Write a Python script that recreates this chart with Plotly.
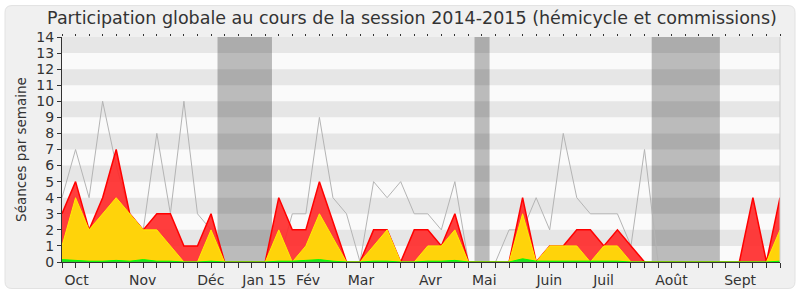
import plotly.graph_objects as go

# ---- data (weekly, session 2014-2015) ----
weeks = list(range(54))
presence = [3, 5, 2, 4, 7, 3, 2, 3, 3, 1, 1, 3, 0, 0, 0, 0, 4, 2, 2, 5, 2.5, 0, 0, 2, 2, 0, 2, 2, 1, 3,
            0, 0, 0, 0, 4, 0, 1, 1, 2, 2, 1, 2, 1, 0, 0, 0, 0, 0, 0, 0, 0, 4, 0, 4]
participation = [1, 4, 2, 3, 4, 3, 2, 2, 1, 0, 0, 2, 0, 0, 0, 0, 2, 0, 1, 3, 1.5, 0, 0, 1, 2, 0, 0, 1, 1, 2,
                 0, 0, 0, 0, 3, 0, 1, 1, 1, 0, 1, 1, 0, 0, 0, 0, 0, 0, 0, 0, 0, 0, 0, 2]
interventions = [0.15, 0.1, 0.05, 0.05, 0.1, 0.05, 0.15, 0.05, 0.05, 0, 0, 0.05, 0, 0, 0, 0, 0.05, 0.05, 0.1, 0.15,
                 0.05, 0, 0, 0.05, 0.05, 0, 0, 0.05, 0.05, 0.1, 0, 0, 0, 0, 0.2, 0.05, 0.05, 0.05, 0.05, 0.05,
                 0.05, 0.05, 0, 0, 0, 0, 0, 0, 0, 0, 0, 0, 0, 0.05]
mediane = [4, 7, 4, 10, 6, 3, 2, 8, 3, 10, 3, 2, 0, 0, 0, 0, 0, 3, 3, 9, 4, 3, 0, 5, 4, 5, 3, 3, 2, 5,
           0, 0, 0, 2, 2, 4, 2, 8, 4, 3, 3, 3, 1, 7, 0, 0, 0, 0, 0, 0, 0, 0, 0, 0]
month_labels = ["Oct", "Nov", "Déc", "Jan 15", "Fév", "Mar", "Avr", "Mai", "Juin", "Juil", "Août", "Sept"]
month_pos = [1.08, 5.96, 10.99, 14.93, 18.16, 22.07, 27.2, 31.17, 35.97, 39.98, 44.99, 50.06]
vacances = [(11.48, 15.5), (30.45, 31.56), (43.53, 48.56)]
y_ticks = list(range(0, 15))

FONT = "DejaVu Sans"
fig = go.Figure()

fig.add_trace(go.Scatter(x=weeks, y=mediane, mode="lines",
                         line=dict(color="#b4b4b4", width=1), hoverinfo="skip", showlegend=False))
fig.add_trace(go.Scatter(x=weeks, y=presence, mode="lines", fill="tozeroy",
                         fillcolor="rgba(255,40,40,0.9)", line=dict(color="#ff0000", width=1.5),
                         showlegend=False))
fig.add_trace(go.Scatter(x=weeks, y=participation, mode="lines", fill="tozeroy",
                         fillcolor="#ffd30a", line=dict(color="#ffee00", width=1),
                         showlegend=False))
fig.add_trace(go.Scatter(x=weeks, y=interventions, mode="lines", fill="tozeroy",
                         fillcolor="#22dd22", line=dict(color="#00ff00", width=1),
                         showlegend=False))
# invisible trace for the top tick axis
fig.add_trace(go.Scatter(x=[0, 53], y=[0, 0], xaxis="x2", mode="markers",
                         marker=dict(opacity=0), hoverinfo="skip", showlegend=False))

# geometry helpers for the outer rounded frame (paper coords relative to plot area)
L, R, T, B = 62, 780, 37, 266
W, H = R - L, B - T
def px(X): return (X - L) / W
def py(Y): return (B - Y) / H

x0, x1, y0, y1, r = 5, 795, 5, 293, 7
path = (f"M {px(x0 + r)},{py(y0)} L {px(x1 - r)},{py(y0)} Q {px(x1)},{py(y0)} {px(x1)},{py(y0 + r)} "
        f"L {px(x1)},{py(y1 - r)} Q {px(x1)},{py(y1)} {px(x1 - r)},{py(y1)} "
        f"L {px(x0 + r)},{py(y1)} Q {px(x0)},{py(y1)} {px(x0)},{py(y1 - r)} "
        f"L {px(x0)},{py(y0 + r)} Q {px(x0)},{py(y0)} {px(x0 + r)},{py(y0)} Z")

shapes = [dict(type="path", path=path, xref="paper", yref="paper", fillcolor="#f0f0f0",
               line=dict(color="#e2e2e2", width=1), layer="below")]
# plot background and alternating bands
shapes.append(dict(type="rect", xref="paper", yref="y", x0=0, x1=1, y0=0, y1=14,
                   fillcolor="#fafafa", line=dict(width=0), layer="below"))
for k in range(1, 14, 2):
    shapes.append(dict(type="rect", xref="paper", yref="y", x0=0, x1=1, y0=k, y1=k + 1,
                       fillcolor="#e6e6e6", line=dict(width=0), layer="below"))
for a, b in vacances:
    shapes.append(dict(type="rect", xref="x", yref="paper", x0=a, x1=b, y0=0, y1=1,
                       fillcolor="rgba(0,0,0,0.25)", line=dict(width=0), layer="below"))
shapes.append(dict(type="line", xref="paper", yref="paper", x0=1, x1=1, y0=0, y1=1,
                   line=dict(color="#cccccc", width=1), layer="above"))

fig.update_layout(
    width=800, height=300,
    margin=dict(l=L, r=800 - R, t=T, b=300 - B),
    paper_bgcolor="white", plot_bgcolor="rgba(0,0,0,0)",
    font=dict(family=FONT, size=14, color="#333333"),
    title=dict(text="Participation globale au cours de la session 2014-2015 (hémicycle et commissions)",
               x=0.515, xanchor="center", y=1 - 18 / 300, yanchor="middle",
               font=dict(family=FONT, size=17.5, color="#333333")),
    shapes=shapes,
    xaxis=dict(range=[0, 53], tickmode="array", tickvals=month_pos, ticktext=month_labels,
               ticks="outside", ticklen=5, tickcolor="rgba(0,0,0,0)",
               minor=dict(tickmode="linear", tick0=0, dtick=1, ticks="outside", ticklen=5,
                          tickcolor="#333333", showgrid=False),
               showgrid=False, zeroline=False, showline=True, linecolor="#333333", linewidth=1,
               tickfont=dict(size=14, color="#333333")),
    xaxis2=dict(range=[0, 53], overlaying="x", side="top", tickmode="linear", tick0=0, dtick=1,
                ticks="outside", ticklen=2, tickcolor="#333333", showticklabels=False,
                showgrid=False, zeroline=False, showline=False),
    yaxis=dict(range=[0, 14], tickmode="array", tickvals=y_ticks, ticks="outside", ticklen=4,
               tickcolor="#333333", showgrid=False, zeroline=False, showline=True,
               linecolor="#333333", linewidth=1, tickfont=dict(size=14, color="#333333"),
               title=dict(text="Séances par semaine", font=dict(size=13.5, color="#333333"), standoff=6)),
)

fig.write_html("out.html")
